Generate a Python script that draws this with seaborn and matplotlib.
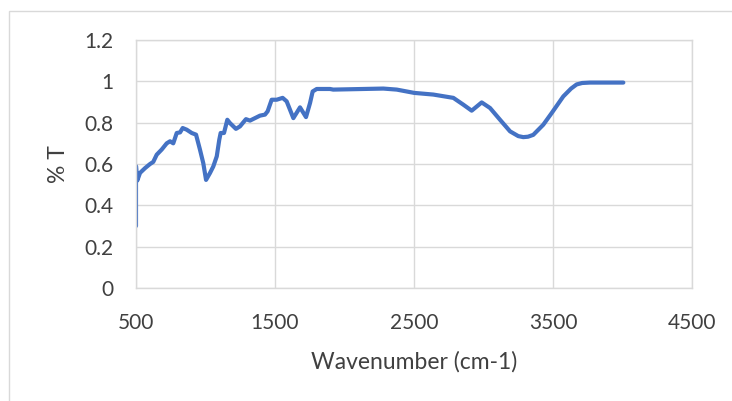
import matplotlib
matplotlib.use("Agg")
import matplotlib.pyplot as plt
import seaborn as sns
import pandas as pd
from matplotlib.patches import Rectangle

wavenumber = [500, 500, 509, 529, 565, 601, 624, 649, 685, 721, 745, 768, 793, 817, 836, 865,
              901, 932, 960, 984, 1004, 1032, 1056, 1081, 1099, 1109, 1133, 1157, 1176, 1219,
              1248, 1291, 1320, 1356, 1392, 1428, 1447, 1476, 1512, 1555, 1584, 1632, 1680,
              1723, 1752, 1771, 1800, 1896, 1919, 2279, 2376, 2502, 2639, 2783, 2855, 2915,
              2987, 3047, 3119, 3191, 3250, 3286, 3320, 3358, 3430, 3491, 3574, 3630, 3670,
              3710, 3766, 4006]
transmittance = [0.30, 0.59, 0.52, 0.557, 0.58, 0.60, 0.61, 0.645, 0.67, 0.70, 0.71, 0.70, 0.75,
                 0.753, 0.774, 0.766, 0.75, 0.742, 0.67, 0.604, 0.523, 0.556, 0.588, 0.637,
                 0.717, 0.75, 0.75, 0.814, 0.798, 0.77, 0.782, 0.817, 0.81, 0.822, 0.834, 0.839,
                 0.855, 0.911, 0.911, 0.92, 0.903, 0.822, 0.874, 0.827, 0.895, 0.951, 0.963,
                 0.963, 0.96, 0.965, 0.96, 0.944, 0.936, 0.92, 0.887, 0.858, 0.898, 0.871,
                 0.814, 0.758, 0.735, 0.73, 0.732, 0.741, 0.79, 0.847, 0.927, 0.965, 0.985,
                 0.992, 0.994, 0.994]

x_ticks = [500, 1500, 2500, 3500, 4500]
y_ticks = [0, 0.2, 0.4, 0.6, 0.8, 1, 1.2]
y_tick_labels = ["0", "0.2", "0.4", "0.6", "0.8", "1", "1.2"]

df = pd.DataFrame({"Wavenumber": wavenumber, "T": transmittance})

sns.set_theme(style="white")
plt.rcParams["font.family"] = ["Lato", "DejaVu Sans"]

fig = plt.figure(figsize=(7.32, 4.01), dpi=100)
ax = fig.add_axes([136 / 732, 1 - 288 / 401, (692 - 136) / 732, (288 - 40) / 401])

sns.lineplot(data=df, x="Wavenumber", y="T", ax=ax, sort=False, color="#4472C4",
             linewidth=3.0, estimator=None)

ax.set_xlim(500, 4500)
ax.set_ylim(0, 1.2)
ax.set_xticks(x_ticks)
ax.set_xticklabels([str(v) for v in x_ticks])
ax.set_yticks(y_ticks)
ax.set_yticklabels(y_tick_labels)
ax.grid(True, color="#D9D9D9", linewidth=1.0)
ax.set_axisbelow(True)
for s in ax.spines.values():
    s.set_color("#D9D9D9")
    s.set_linewidth(1.0)
ax.tick_params(axis="both", length=0, labelsize=15, colors="#404040")
ax.tick_params(axis="x", pad=18)
ax.tick_params(axis="y", pad=16)
ax.set_xlabel("Wavenumber (cm-1)", fontsize=16.5, color="#404040", labelpad=13)
ax.set_ylabel("% T", fontsize=16.5, color="#404040", labelpad=11)

fig.patches.append(Rectangle((9 / 732, -0.01), 1.2, 1 - 11 / 401 + 0.01,
                             transform=fig.transFigure, fill=False,
                             edgecolor="#D9D9D9", linewidth=1.0))

fig.savefig("out.png", dpi=100)
